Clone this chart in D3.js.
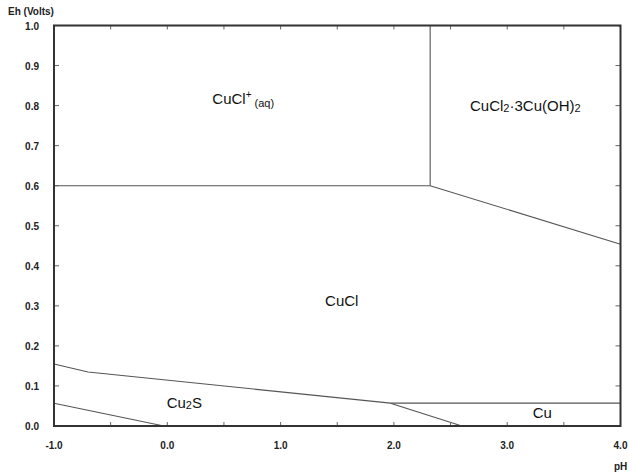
<!DOCTYPE html>
<html><head><meta charset="utf-8">
<script src="https://cdn.jsdelivr.net/npm/d3@7"></script>
<style>body{margin:0;background:#fff}text{font-family:Arial,"Liberation Sans",sans-serif}</style>
</head><body><svg id="c" width="629" height="476"></svg>
<script>
const xTicks = [-1, 0, 1, 2, 3, 4];
const yTicks = [0, 0.1, 0.2, 0.3, 0.4, 0.5, 0.6, 0.7, 0.8, 0.9, 1.0];
const boundaries = [
  [[-1, 0.6], [2.32, 0.6]],
  [[2.32, 0.6], [2.32, 1.0]],
  [[2.32, 0.6], [4.0, 0.454]],
  [[3.98, 1.0], [4.0, 0.997]],
  [[-1, 0.155], [-0.7, 0.135], [1.97, 0.057]],
  [[1.97, 0.057], [4.0, 0.057]],
  [[1.97, 0.057], [2.6, 0.0]],
  [[-1, 0.057], [-0.03, 0.0]]
];
const labels = [
  {x: 0.67, y: 0.805, parts: [["CuCl",0],["+",1],[" (aq)",2]]},
  {x: 3.16, y: 0.786, parts: [["CuCl",0],["2",3],["·3Cu(OH)",0],["2",3]]},
  {x: 1.54, y: 0.3, parts: [["CuCl",0]]},
  {x: 0.15, y: 0.045, parts: [["Cu",0],["2",3],["S",0]]},
  {x: 3.31, y: 0.02, parts: [["Cu",0]]}
];
const svg = d3.select("#c");
const x = d3.scaleLinear().domain([-1, 4]).range([54, 620.5]);
const y = d3.scaleLinear().domain([0, 1]).range([426, 25.5]);
const minorX = d3.range(-1, 4.01, 0.5);
const line = d3.line().x(d => x(d[0])).y(d => y(d[1]));
svg.selectAll("path.b").data(boundaries).enter().append("path")
  .attr("d", line).attr("fill", "none").attr("stroke", "#555").attr("stroke-width", 1.1);
const g = svg.append("g").attr("stroke", "#666").attr("stroke-width", 1);
minorX.forEach(v => {
  g.append("line").attr("x1", x(v)).attr("x2", x(v)).attr("y1", y(0)).attr("y2", y(0) - 4);
  g.append("line").attr("x1", x(v)).attr("x2", x(v)).attr("y1", y(1)).attr("y2", y(1) + 4);
});
yTicks.forEach(v => {
  g.append("line").attr("x1", x(-1)).attr("x2", x(-1) + 5).attr("y1", y(v)).attr("y2", y(v));
  g.append("line").attr("x1", x(4)).attr("x2", x(4) - 5).attr("y1", y(v)).attr("y2", y(v));
});
svg.append("rect").attr("x", x(-1)).attr("y", y(1)).attr("width", x(4) - x(-1)).attr("height", y(0) - y(1))
  .attr("fill", "none").attr("stroke", "#333").attr("stroke-width", 2);
svg.selectAll("text.xt").data(xTicks).enter().append("text")
  .attr("x", d => x(d)).attr("y", 449).attr("text-anchor", "middle")
  .attr("font-size", 10).attr("font-weight", "bold").attr("fill", "#222")
  .text(d => d.toFixed(1));
svg.selectAll("text.yt").data(yTicks).enter().append("text")
  .attr("x", 39).attr("y", d => y(d) + 4).attr("text-anchor", "end")
  .attr("font-size", 10).attr("font-weight", "bold").attr("fill", "#222")
  .text(d => d.toFixed(1));
svg.append("text").attr("x", 8).attr("y", 15).attr("font-size", 10).attr("font-weight", "bold").attr("fill", "#222").text("Eh (Volts)");
svg.append("text").attr("x", 614).attr("y", 470).attr("font-size", 10).attr("font-weight", "bold").attr("fill", "#222").text("pH");
labels.forEach(l => {
  const t = svg.append("text").attr("x", x(l.x)).attr("y", y(l.y)).attr("text-anchor", "middle")
    .attr("font-size", 15).attr("fill", "#111");
  let off = 0;
  l.parts.forEach(p => {
    const s = t.append("tspan").text(p[0]);
    let want = 0;
    if (p[1] === 1) { s.attr("font-size", 10); want = -6; }
    if (p[1] === 2) { s.attr("font-size", 11); want = 3; }
    if (p[1] === 3) { s.attr("font-size", 11); want = 1; }
    s.attr("dy", want - off);
    off = want;
  });
});
</script></body></html>
